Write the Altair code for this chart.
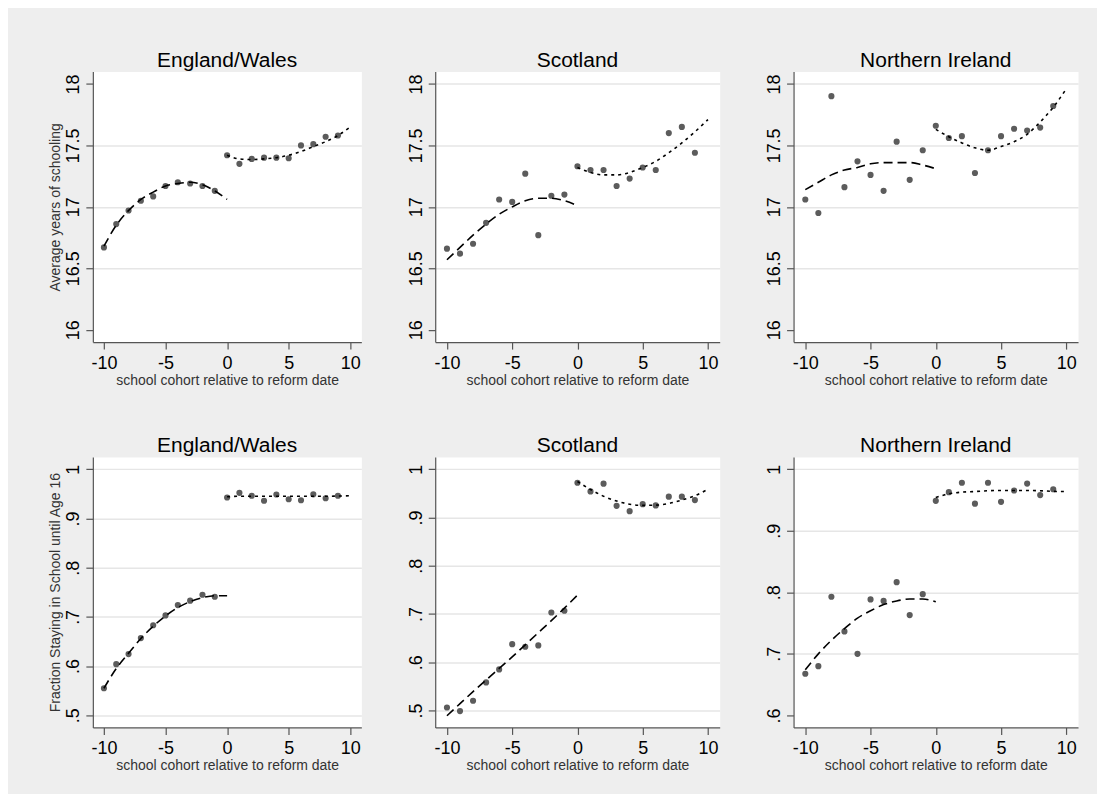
import altair as alt
import pandas as pd

FONT = "Liberation Sans"

x_points = list(range(-10, 10))
x_fit_left = list(range(-10, 1))
x_fit_right = list(range(0, 11))

# Average years of schooling
ew_years = [16.67, 16.86, 16.97, 17.05, 17.085, 17.17, 17.20, 17.19, 17.17, 17.13,
            17.42, 17.35, 17.39, 17.40, 17.40, 17.395, 17.50, 17.51, 17.57, 17.58]
ew_years_fit_l = [16.68, 16.85, 16.97, 17.06, 17.12, 17.17, 17.19, 17.20, 17.18, 17.13, 17.06]
ew_years_fit_r = [17.42, 17.39, 17.385, 17.39, 17.40, 17.42, 17.45, 17.49, 17.53, 17.58, 17.65]

sc_years = [16.66, 16.62, 16.70, 16.87, 17.06, 17.04, 17.27, 16.77, 17.09, 17.10,
            17.33, 17.30, 17.30, 17.17, 17.23, 17.32, 17.30, 17.60, 17.65, 17.44]
sc_years_fit_l = [16.57, 16.67, 16.77, 16.86, 16.94, 17.00, 17.05, 17.07, 17.07, 17.05, 17.01]
sc_years_fit_r = [17.32, 17.28, 17.26, 17.26, 17.28, 17.32, 17.37, 17.44, 17.52, 17.61, 17.71]

ni_years = [17.06, 16.95, 17.90, 17.16, 17.37, 17.26, 17.13, 17.53, 17.22, 17.46,
            17.66, 17.56, 17.575, 17.275, 17.46, 17.575, 17.635, 17.62, 17.645, 17.82]
ni_years_fit_l = [17.14, 17.20, 17.26, 17.30, 17.32, 17.35, 17.36, 17.36, 17.36, 17.34, 17.31]
ni_years_fit_r = [17.63, 17.57, 17.52, 17.48, 17.46, 17.49, 17.53, 17.59, 17.69, 17.81, 17.96]

# Fraction staying in school until age 16
ew_frac = [0.555, 0.604, 0.6245, 0.657, 0.683, 0.703, 0.724, 0.733, 0.745, 0.741,
           0.9425, 0.952, 0.946, 0.936, 0.9486, 0.939, 0.937, 0.949, 0.941, 0.946]
ew_frac_fit_l = [0.555, 0.595, 0.626, 0.656, 0.681, 0.702, 0.719, 0.731, 0.739, 0.743, 0.743]
ew_frac_fit_r = [0.944, 0.945, 0.945, 0.945, 0.945, 0.945, 0.945, 0.945, 0.945, 0.9455, 0.946]

sc_frac = [0.506, 0.4986, 0.52, 0.558, 0.585, 0.6374, 0.632, 0.6347, 0.703, 0.7065,
           0.972, 0.954, 0.970, 0.924, 0.913, 0.9275, 0.925, 0.943, 0.943, 0.936]
sc_frac_fit_l = [0.489, 0.514, 0.539, 0.563, 0.587, 0.611, 0.636, 0.661, 0.686, 0.712, 0.739]
sc_frac_fit_r = [0.9745, 0.958, 0.944, 0.934, 0.9275, 0.925, 0.9255, 0.929, 0.936, 0.945, 0.9586]

ni_frac = [0.6677, 0.680, 0.7927, 0.7364, 0.700, 0.7884, 0.786, 0.8165, 0.763, 0.797,
           0.9486, 0.9627, 0.978, 0.944, 0.978, 0.947, 0.9654, 0.9767, 0.958, 0.9675]
ni_frac_fit_l = [0.674, 0.700, 0.722, 0.741, 0.758, 0.770, 0.780, 0.786, 0.789, 0.789, 0.7846]
ni_frac_fit_r = [0.954, 0.960, 0.9627, 0.9637, 0.965, 0.9654, 0.9654, 0.9654, 0.965, 0.964, 0.9637]

x_ticks = [-10, -5, 0, 5, 10]
years_ticks = [16, 16.5, 17, 17.5, 18]
frac_ticks_a = [0.5, 0.6, 0.7, 0.8, 0.9, 1.0]
frac_ticks_b = [0.6, 0.7, 0.8, 0.9, 1.0]

X_TITLE = "school cohort relative to reform date"


def panel(title, ys, fit_l, fit_r, ydomain, yticks, ytitle, width, frac, no_grid):
    pts = pd.DataFrame({"x": x_points, "y": ys})
    fl = pd.DataFrame({"x": x_fit_left, "y": fit_l})
    fr = pd.DataFrame({"x": x_fit_right, "y": fit_r})

    if frac:
        lab = "datum.value >= 1 ? '1' : substring(format(datum.value, '.1f'), 1)"
    else:
        lab = "format(datum.value, '~g')"
    test = " || ".join(f"datum.value == {v}" for v in no_grid) if no_grid else "false"

    xenc = alt.X("x:Q", scale=alt.Scale(domain=[-10.9, 10.9], nice=False, zero=False),
                 axis=alt.Axis(values=x_ticks, title=X_TITLE, grid=False,
                               labelExpr="'' + datum.value"))
    yaxis = alt.Axis(values=yticks, labelExpr=lab, labelAngle=270,
                     gridOpacity={"condition": {"test": test, "value": 0}, "value": 1})
    yenc = alt.Y("y:Q", scale=alt.Scale(domain=ydomain, nice=False, zero=False),
                 axis=yaxis, title=ytitle if ytitle else "")

    points = alt.Chart(pts).mark_circle(size=38, color="#5c5c5c", opacity=1).encode(x=xenc, y=yenc)
    left = alt.Chart(fl).mark_line(color="black", strokeWidth=1.6, strokeDash=[9, 5],
                                   interpolate="monotone").encode(x="x:Q", y="y:Q")
    right = alt.Chart(fr).mark_line(color="black", strokeWidth=1.6, strokeDash=[3, 4],
                                    interpolate="monotone").encode(x="x:Q", y="y:Q")
    return alt.layer(points, left, right).properties(
        width=width, height=271,
        title=alt.TitleParams(title, fontSize=21, font=FONT, fontWeight="normal",
                              color="black", offset=1, anchor="middle"))


W1, W2 = 269, 285
top = alt.hconcat(
    panel("England/Wales", ew_years, ew_years_fit_l, ew_years_fit_r, [15.9, 18.1], years_ticks,
          "Average years of schooling", W1, False, [16, 18]),
    panel("Scotland", sc_years, sc_years_fit_l, sc_years_fit_r, [15.9, 18.1], years_ticks,
          None, W2, False, [16]),
    panel("Northern Ireland", ni_years, ni_years_fit_l, ni_years_fit_r, [15.9, 18.1], years_ticks,
          None, W2, False, [16]),
    spacing=44,
)
bottom = alt.hconcat(
    panel("England/Wales", ew_frac, ew_frac_fit_l, ew_frac_fit_r, [0.4755, 1.025], frac_ticks_a,
          "Fraction Staying in School until Age 16", W1, True, []),
    panel("Scotland", sc_frac, sc_frac_fit_l, sc_frac_fit_r, [0.4648, 1.0255], frac_ticks_a,
          None, W2, True, []),
    panel("Northern Ireland", ni_frac, ni_frac_fit_l, ni_frac_fit_r, [0.5805, 1.02], frac_ticks_b,
          None, W2, True, [0.6]),
    spacing=44,
)

chart = alt.vconcat(top, bottom, spacing=46).properties(
    padding={"left": 40, "top": 40, "right": 18, "bottom": 20}
).configure(
    background="#eeeeee", font=FONT
).configure_view(
    fill="white", stroke="transparent"
).configure_axis(
    labelFont=FONT, titleFont=FONT, labelFontSize=18, labelColor="black",
    titleFontSize=14, titleFontWeight="normal", titleColor="#333333",
    domainColor="#555555", domainWidth=1.2, tickColor="#555555", tickSize=7, tickWidth=1.2,
    gridColor="#e6e6e6", gridWidth=1.5, labelPadding=3, titlePadding=2
).configure_axisX(
    labelPadding=5, titlePadding=1
)

chart.save("out.html", embed_options={"renderer": "svg", "actions": False})
